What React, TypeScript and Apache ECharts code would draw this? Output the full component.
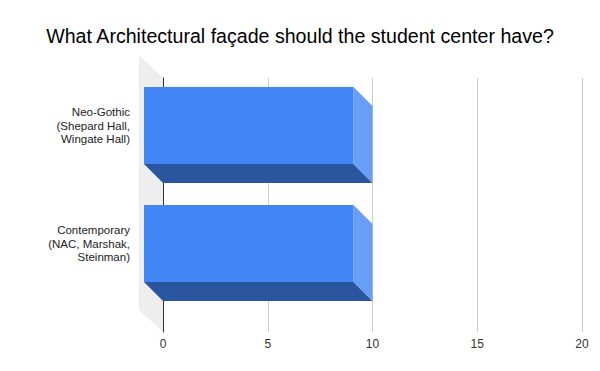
import React, { useEffect, useRef } from "react";
import * as echarts from "echarts";

const titleText = "What Architectural façade should the student center have?";
const categories = [
  "Neo-Gothic\n(Shepard Hall,\nWingate Hall)",
  "Contemporary\n(NAC, Marshak,\nSteinman)",
];
const values = [10, 10];
const xTicks = { min: 0, max: 20, interval: 5 };

const FONT = "'Liberation Sans', Arial, sans-serif";
const DEPTH = 19;

export default function App() {
  const ref = useRef<HTMLDivElement>(null);
  useEffect(() => {
    if (!ref.current) return;
    const chart = echarts.init(ref.current, null, { renderer: "svg" });
    const option: any = {
      animation: false,
      backgroundColor: "#ffffff",
      title: {
        text: titleText,
        left: "center",
        top: 21,
        textStyle: { fontFamily: FONT, fontSize: 19.6, fontWeight: "normal", color: "#000000" },
      },
      graphic: [
        {
          type: "polygon",
          z: -1,
          silent: true,
          shape: { points: [[139, 55], [163, 78], [163, 332], [139, 310]] },
          style: { fill: "#eeeeee" },
        },
      ],
      grid: [
        { left: 163, right: 18, top: 78, bottom: 39 },
        { left: 144, right: 37, top: 66.5, bottom: 68.5 },
      ],
      xAxis: [
        {
          gridIndex: 0,
          type: "value",
          min: xTicks.min,
          max: xTicks.max,
          interval: xTicks.interval,
          axisLine: { show: false },
          axisTick: { show: false },
          splitLine: { show: true, lineStyle: { color: "#cccccc", width: 1 } },
          axisLabel: { fontFamily: FONT, fontSize: 12, color: "#333333", margin: 6 },
        },
        {
          gridIndex: 1,
          type: "value",
          min: xTicks.min,
          max: xTicks.max,
          show: false,
        },
      ],
      yAxis: [
        {
          gridIndex: 0,
          type: "category",
          data: categories,
          inverse: true,
          axisLine: { show: true, lineStyle: { color: "#333333", width: 1 } },
          axisTick: { show: false },
          axisLabel: { show: false },
          splitLine: { show: false },
        },
        {
          gridIndex: 1,
          type: "category",
          data: categories,
          inverse: true,
          axisLine: { show: false },
          axisTick: { show: false },
          splitLine: { show: false },
          axisLabel: {
            fontFamily: FONT,
            fontSize: 11.5,
            lineHeight: 13.4,
            color: "#222222",
            margin: 14,
            align: "right",
            padding: [0, 0, 5, 0],
          },
        },
      ],
      series: [
        {
          type: "custom",
          xAxisIndex: 1,
          yAxisIndex: 1,
          z: 5,
          data: values.map((v, i) => [v, i]),
          renderItem: (params: any, api: any) => {
            const v = api.value(0);
            const idx = api.value(1);
            const s = api.coord([0, idx]);
            const e = api.coord([v, idx]);
            const bandH = api.size([0, 1])[1];
            const h = bandH * 0.6525;
            const x0 = s[0];
            const x1 = e[0];
            const y0 = s[1] - h / 2;
            const y1 = s[1] + h / 2;
            const d = DEPTH;
            return {
              type: "group",
              children: [
                {
                  type: "polygon",
                  shape: { points: [[x0, y1], [x1, y1], [x1 + d, y1 + d], [x0 + d, y1 + d]] },
                  style: { fill: "#2a56a0" },
                },
                {
                  type: "polygon",
                  shape: { points: [[x1, y0], [x1 + d, y0 + d], [x1 + d, y1 + d], [x1, y1]] },
                  style: { fill: "#689ef6" },
                },
                {
                  type: "rect",
                  shape: { x: x0, y: y0, width: x1 - x0, height: h },
                  style: { fill: "#4285f4" },
                },
              ],
            };
          },
        },
      ],
    };
    chart.setOption(option);
    return () => chart.dispose();
  }, []);
  return (
    <div
      ref={ref}
      style={{ position: "fixed", left: 0, top: 0, width: 600, height: 371 }}
    />
  );
}
